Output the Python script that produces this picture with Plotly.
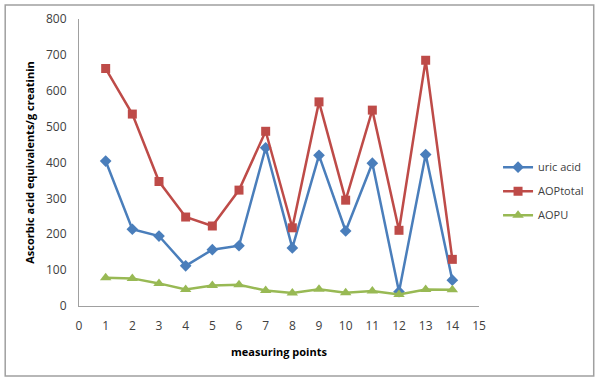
import plotly.graph_objects as go

points = list(range(1, 15))
uric_acid = [404, 214, 195, 112, 157, 168, 441, 162, 420, 209, 398, 40, 422, 72]
aop_total = [662, 535, 347, 248, 223, 323, 487, 218, 569, 295, 546, 211, 685, 130]
aopu = [79, 77, 63, 46, 57, 59, 43, 36, 47, 37, 42, 32, 46, 45]

series_names = ["uric acid", "AOPtotal", "AOPU"]
x_ticks = list(range(0, 16))
y_ticks = list(range(0, 801, 100))

fig = go.Figure()
fig.add_trace(go.Scatter(x=points, y=uric_acid, name=series_names[0], mode="lines+markers",
                         legendgroup="a",
                         line=dict(color="#4A7EBB", width=2.5),
                         marker=dict(symbol="diamond", size=9, color="#4A7EBB")))
fig.add_trace(go.Scatter(x=points, y=aop_total, name=series_names[1], mode="lines+markers",
                         legendgroup="b",
                         line=dict(color="#BE4B48", width=2.5),
                         marker=dict(symbol="square", size=9, color="#BE4B48")))
fig.add_trace(go.Scatter(x=points, y=aopu, name=series_names[2], mode="lines+markers",
                         legendgroup="c",
                         line=dict(color="#98B954", width=2.5),
                         marker=dict(symbol="triangle-up", size=10, color="#98B954")))

font_family = "Open Sans, Liberation Sans, sans-serif"
fig.update_layout(
    width=600, height=382,
    margin=dict(l=79, r=120, t=19, b=76),
    paper_bgcolor="white", plot_bgcolor="white",
    font=dict(family=font_family, size=11, color="#404040"),
    showlegend=True,
    legend=dict(x=1.045, y=0.40, xanchor="left", yanchor="middle",
                font=dict(size=11, color="#404040"), itemwidth=30,
                tracegroupgap=5,
                bgcolor="rgba(0,0,0,0)"),
    xaxis=dict(range=[0, 15], tickmode="array", tickvals=x_ticks,
               showgrid=False, zeroline=False, showline=True, linecolor="#A0A0A0",
               linewidth=1, ticks="", ticklabelstandoff=9, automargin=False,
               tickfont=dict(size=12, color="#404040"),
               title=dict(text="<b>measuring points</b>", font=dict(size=11, color="#000000"),
                          standoff=14)),
    yaxis=dict(range=[0, 800], tickmode="array", tickvals=y_ticks,
               showgrid=False, zeroline=False, showline=True, linecolor="#A0A0A0",
               linewidth=1, ticks="", ticklabelstandoff=9, automargin=False,
               tickfont=dict(size=12, color="#404040"),
               title=dict(text="<b>Ascorbic acid equivalents/g creatinin</b>",
                          font=dict(size=11, color="#000000"), standoff=9)),
    shapes=[dict(type="rect", xref="paper", yref="paper",
                 x0=-0.1845, x1=1.2868, y0=-0.2439, y1=1.0488,
                 line=dict(color="#A0A0A0", width=1.5), fillcolor="rgba(0,0,0,0)",
                 layer="above")],
)

fig.write_html("out.html", config={"displayModeBar": False},
               post_script="document.body.style.margin='0';document.body.style.overflow='hidden';")
